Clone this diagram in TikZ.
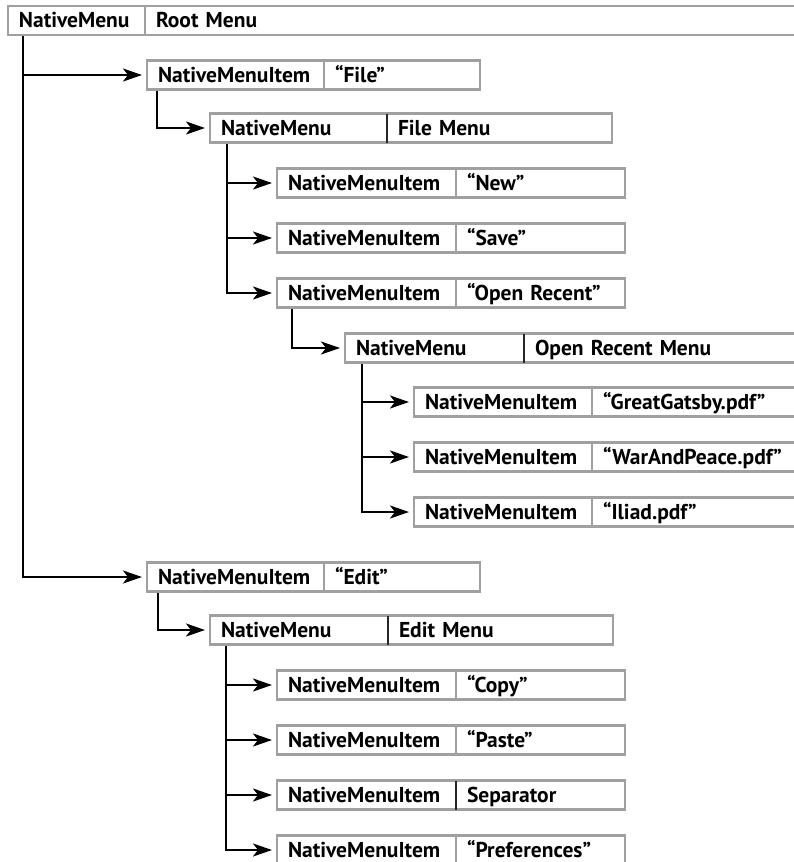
\documentclass[tikz,border=0pt]{standalone}
\usepackage{fontspec}
\setmainfont{PT Sans}
\usetikzlibrary{arrows.meta}
\definecolor{boxgray}{RGB}{160,160,160}
\pgfdeclarelayer{background}
\pgfsetlayers{background,main}
\newcommand\twobox[7]{%
  \pgfmathsetmacro\twa{#4-22}%
  \pgfmathsetmacro\twb{#5-22}%
  \node[cell, text width=\twa pt] (#1) at (#2,#3) {#6};
  \node[cell, text width=\twb pt] (#1r) at (#1.east) {#7};
}
\begin{document}
\begin{tikzpicture}[x=1pt,y=-1pt,
  cell/.style={draw=boxgray, line width=2.2pt, outer sep=0pt, minimum height=29pt,
    inner xsep=11pt, inner ysep=0pt, anchor=west, align=left,
    font=\fontsize{21.5}{24}\selectfont\bfseries, text height=14pt, text depth=0pt},
  conn/.style={line width=2.5pt, -{Stealth[length=19pt,width=13pt,inset=5pt]}, shorten >=5pt},
  darkdiv/.style={line width=1.2pt, draw=black!85}
]
\useasboundingbox (0,0) rectangle (794,862);
\clip (0,0) rectangle (794,862);

\twobox{root}{8}{20.5}{137}{700}{NativeMenu}{Root Menu}
\twobox{file}{147}{75}{177}{156}{NativeMenuItem}{“File”}
\twobox{fmenu}{210}{128}{177}{225}{NativeMenu}{File Menu}
\twobox{new}{277}{183}{179}{169}{NativeMenuItem}{“New”}
\twobox{save}{277}{238}{179}{169}{NativeMenuItem}{“Save”}
\twobox{orec}{277}{293}{179}{169}{NativeMenuItem}{“Open Recent”}
\twobox{omenu}{345}{348}{179}{400}{NativeMenu}{Open Recent Menu}
\twobox{gg}{414}{402}{178}{300}{NativeMenuItem}{“GreatGatsby.pdf”}
\twobox{wp}{414}{457}{178}{300}{NativeMenuItem}{“WarAndPeace.pdf”}
\twobox{il}{414}{512}{178}{300}{NativeMenuItem}{“Iliad.pdf”}
\twobox{edit}{147}{577}{177}{156}{NativeMenuItem}{“Edit”}
\twobox{emenu}{210}{630}{178}{225}{NativeMenu}{Edit Menu}
\twobox{copy}{277}{685}{179}{169}{NativeMenuItem}{“Copy”}
\twobox{paste}{277}{740}{179}{169}{NativeMenuItem}{“Paste”}
\twobox{sep}{277}{795}{179}{169}{NativeMenuItem}{Separator}
\twobox{pref}{277}{850}{179}{169}{NativeMenuItem}{“Preferences”}

\foreach \n in {fmenu,omenu,emenu,sep}
  \draw[darkdiv] (\n.north east) -- (\n.south east);

\begin{pgfonlayer}{background}
\draw[conn] ([xshift=15pt]root.south west) |- (file.west);
\draw[conn] ([xshift=15pt]root.south west) |- (edit.west);
\draw[conn] ([xshift=10pt]file.south west) |- (fmenu.west);
\foreach \c in {new,save,orec}
  \draw[conn] ([xshift=17pt]fmenu.south west) |- (\c.west);
\draw[conn] ([xshift=15pt]orec.south west) |- (omenu.west);
\foreach \c in {gg,wp,il}
  \draw[conn] ([xshift=17pt]omenu.south west) |- (\c.west);
\draw[conn] ([xshift=11pt]edit.south west) |- (emenu.west);
\foreach \c in {copy,paste,sep,pref}
  \draw[conn] ([xshift=16pt]emenu.south west) |- (\c.west);
\end{pgfonlayer}
\end{tikzpicture}
\end{document}
